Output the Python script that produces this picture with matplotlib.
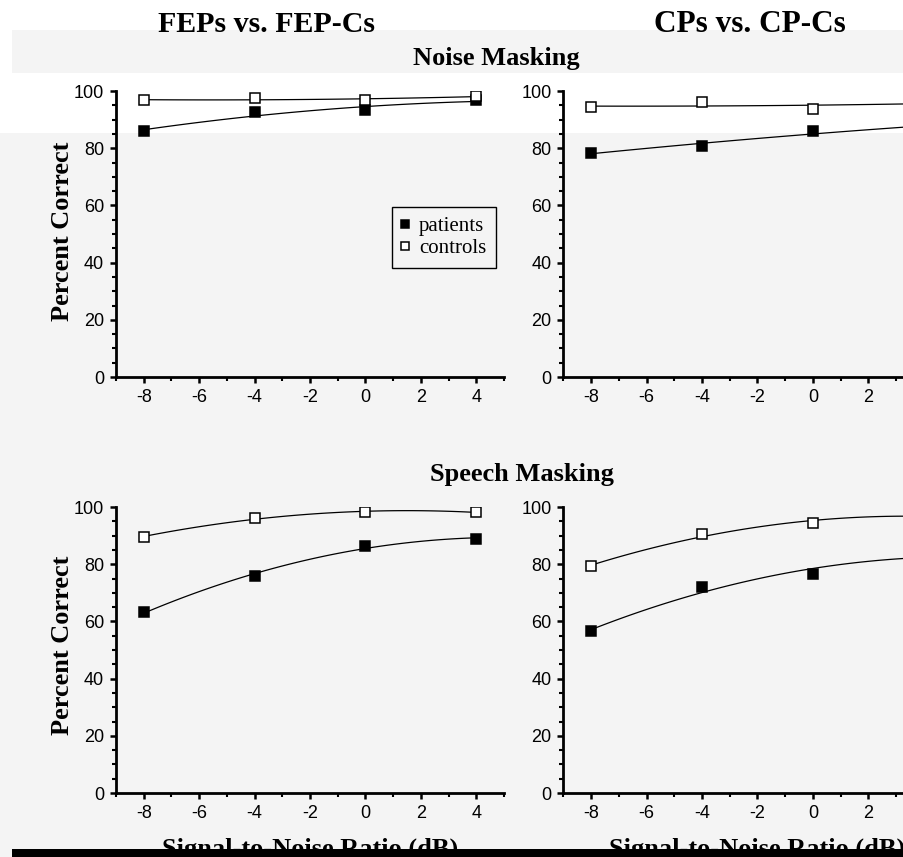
import numpy as np
import matplotlib
matplotlib.use("Agg")
import matplotlib.pyplot as plt
from matplotlib.patches import Rectangle
from matplotlib.ticker import MultipleLocator

# ---- datos ----
SNR = [-8, -4, 0, 4]
COL_TITLES = ["FEPs vs. FEP-Cs", "CPs vs. CP-Cs"]
ROW_TITLES = ["Noise Masking", "Speech Masking"]

noise_fep_pat = [86.0, 92.6, 93.2, 96.8]
noise_fep_ctl = [96.8, 97.4, 96.8, 98.2]
noise_cp_pat = [78.4, 80.7, 86.0, 87.5]
noise_cp_ctl = [94.3, 96.0, 93.8, 96.0]

speech_fep_pat = [63.2, 75.7, 86.5, 88.9]
speech_fep_ctl = [89.6, 96.0, 98.2, 98.2]
speech_cp_pat = [56.5, 72.0, 76.6, 83.0]
speech_cp_ctl = [79.4, 90.4, 94.5, 97.0]

YTICKS = [0, 20, 40, 60, 80, 100]
XTICKS_LEFT = [-8, -6, -4, -2, 0, 2, 4]
XTICKS_RIGHT = [-8, -6, -4, -2, 0, 2]   # el "4" queda fuera del recorte

W, H = 904, 857
BG = "#f4f4f4"
SERIF = ["Liberation Serif", "DejaVu Serif"]
SANS = ["Liberation Sans", "DejaVu Sans"]
plt.rcParams["axes.unicode_minus"] = False


def px_rect(x0, y0, x1, y1):
    """rectángulo en píxeles (origen arriba-izq) -> coords de figura"""
    return [x0 / W, 1 - y1 / H, (x1 - x0) / W, (y1 - y0) / H]


fig = plt.figure(figsize=(W / 100, H / 100), dpi=100, facecolor=BG)

# bandas de fondo (la franja blanca de arriba), por debajo de los ejes
for (x0, y0, x1, y1) in [(0, 0, W, 30), (0, 73, W, 133), (0, 0, 12, 133)]:
    l, b, w, h = px_rect(x0, y0, x1, y1)
    fig.patches.append(Rectangle((l, b), w, h, transform=fig.transFigure,
                                 facecolor="white", edgecolor="none", zorder=-5))

panels = [
    (px_rect(116, 91, 504, 377), noise_fep_pat, noise_fep_ctl, XTICKS_LEFT),
    (px_rect(563.5, 91, 951.5, 377), noise_cp_pat, noise_cp_ctl, XTICKS_RIGHT),
    (px_rect(116, 507, 504, 793), speech_fep_pat, speech_fep_ctl, XTICKS_LEFT),
    (px_rect(563.5, 507, 951.5, 793), speech_cp_pat, speech_cp_ctl, XTICKS_RIGHT),
]

axes = []
xs = np.linspace(-8, 4, 100)
for rect, pat, ctl, xt in panels:
    ax = fig.add_axes(rect)
    ax.set_facecolor("none")
    for vals, fc, lab in [(pat, "black", "patients"), (ctl, "white", "controls")]:
        coef = np.polyfit(SNR, vals, 2)
        ax.plot(xs, np.polyval(coef, xs), color="black", lw=0.9, zorder=2)
        ax.plot(SNR, vals, ls="none", marker="s", ms=6.5, mfc=fc, mec="black",
                mew=1.1, label=lab, zorder=3)
    ax.set_xlim(-9, 5)
    ax.set_ylim(0, 100)
    ax.set_xticks(xt)
    ax.set_yticks(YTICKS)
    ax.xaxis.set_minor_locator(MultipleLocator(1))
    ax.yaxis.set_minor_locator(MultipleLocator(5))
    for s in ("top", "right"):
        ax.spines[s].set_visible(False)
    for s in ("left", "bottom"):
        ax.spines[s].set_linewidth(2.0)
    ax.tick_params(which="major", length=4.5, width=1.8, direction="out", pad=4)
    ax.tick_params(which="minor", length=3, width=1.5, direction="out")
    for t in ax.get_xticklabels() + ax.get_yticklabels():
        t.set_family(SANS)
        t.set_fontsize(13)
    axes.append(ax)

# leyenda en el panel superior izquierdo
leg = axes[0].legend(loc="upper left", bbox_to_anchor=(0.711, 0.594), frameon=True,
                     fancybox=False, edgecolor="black", framealpha=1, facecolor=BG,
                     handlelength=0.4, handletextpad=0.45, borderpad=0.45,
                     borderaxespad=0, labelspacing=0.12, markerscale=0.8,
                     prop=dict(family=SERIF, size=15))
leg.get_frame().set_linewidth(1.0)

# etiquetas del eje Y
for yc in (231, 645):
    fig.text(63 / W, 1 - yc / H, "Percent Correct", rotation=90, ha="center",
             va="center", family=SERIF, weight="bold", fontsize=19)

# títulos
fig.text(267 / W, 1 - 25 / H, COL_TITLES[0], ha="center", va="center",
         family=SERIF, weight="bold", fontsize=21.5)
fig.text(750 / W, 1 - 25 / H, COL_TITLES[1], ha="center", va="center",
         family=SERIF, weight="bold", fontsize=22.5)
fig.text(496 / W, 1 - 58 / H, ROW_TITLES[0], ha="center", va="center",
         family=SERIF, weight="bold", fontsize=19)
fig.text(522 / W, 1 - 474 / H, ROW_TITLES[1], ha="center", va="center",
         family=SERIF, weight="bold", fontsize=19)

# etiquetas del eje X (tapadas en parte por la franja negra, como en la original)
for xc in (310, 757):
    fig.text(xc / W, 1 - 838 / H, "Signal-to-Noise Ratio (dB)", ha="center",
             va="top", family=SERIF, weight="bold", fontsize=19)

l, b, w, h = px_rect(12, 849, W, H)
fig.patches.append(Rectangle((l, b), w, h, transform=fig.transFigure,
                             facecolor="black", edgecolor="none", zorder=10))

fig.savefig("out.png", dpi=100, facecolor=BG)
